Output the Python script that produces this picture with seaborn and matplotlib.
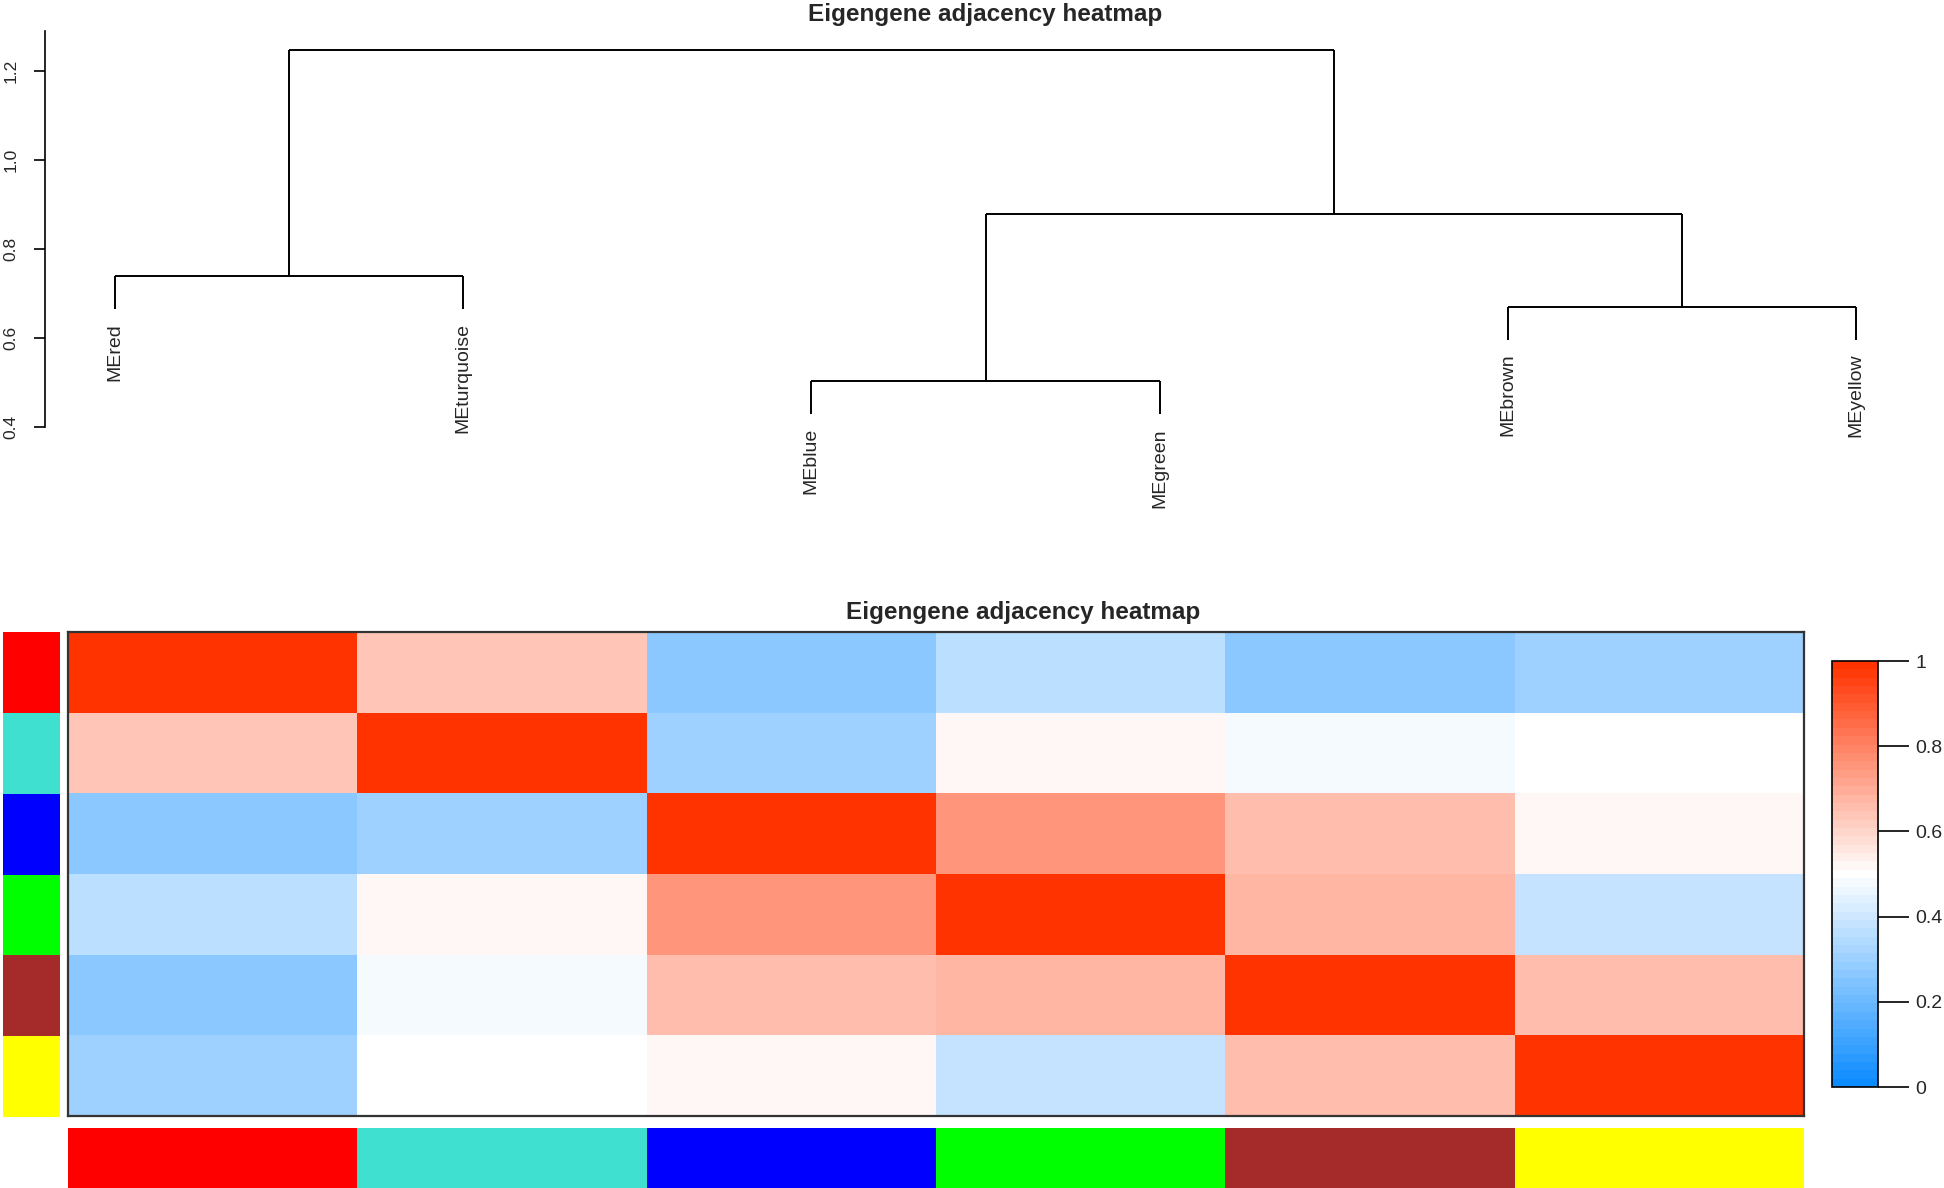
import numpy as np
import pandas as pd
import matplotlib
matplotlib.use("Agg")
import matplotlib.pyplot as plt
from matplotlib.colors import LinearSegmentedColormap, ListedColormap
import seaborn as sns

# module eigengenes, in dendrogram / heatmap order
me_names = ["MEred", "MEturquoise", "MEblue", "MEgreen", "MEbrown", "MEyellow"]
module_colors = ["#FF0000", "#40E0D0", "#0000FF", "#00FF00", "#A52A2A", "#FFFF00"]

# eigengene adjacency
adjacency = [
    [1.00, 0.63, 0.27, 0.355, 0.27, 0.31],
    [0.63, 1.00, 0.31, 0.525, 0.48, 0.50],
    [0.27, 0.31, 1.00, 0.75, 0.66, 0.525],
    [0.355, 0.525, 0.75, 1.00, 0.67, 0.375],
    [0.27, 0.48, 0.66, 0.67, 1.00, 0.665],
    [0.31, 0.50, 0.525, 0.375, 0.665, 1.00],
]

# dendrogram merges: leaves 0-5, merged nodes numbered 6, 7, ...
merge_left = [0, 2, 4, 7, 6]
merge_right = [1, 3, 5, 8, 9]
merge_height = [0.739, 0.503, 0.670, 0.879, 1.247]

y_ticks = [0.4, 0.6, 0.8, 1.0, 1.2]
cbar_ticks = [0, 0.2, 0.4, 0.6, 0.8, 1]
cbar_labels = ["0", "0.2", "0.4", "0.6", "0.8", "1"]
title = "Eigengene adjacency heatmap"

sns.set_style("white")
plt.rcParams["font.family"] = ["Liberation Sans", "DejaVu Sans"]

W, H = 1944, 1188
fig = plt.figure(figsize=(W / 100, H / 100), dpi=100)


def box(x0, y0, x1, y1):
    # pixel box (top-left origin) -> figure fraction rect
    return [x0 / W, 1 - y1 / H, (x1 - x0) / W, (y1 - y0) / H]


# ---------- dendrogram ----------
ax_d = fig.add_axes(box(45, 31, 1926, 520))
n = len(me_names)
pos = {i: i + 1 for i in range(n)}
hgt = {}
hang = 0.1 * (max(merge_height) - min(merge_height))
for k, (a, b, h) in enumerate(zip(merge_left, merge_right, merge_height)):
    for c in (a, b):
        ybot = hgt[c] if c in hgt else h - hang
        ax_d.plot([pos[c], pos[c]], [ybot, h], color="black", lw=1.4,
                  solid_capstyle="butt")
        if c < n:
            ax_d.annotate(me_names[c], (pos[c], ybot), xytext=(0, -10),
                          textcoords="offset points", rotation=90,
                          ha="center", va="top", fontsize=14)
    ax_d.plot([pos[a], pos[b]], [h, h], color="black", lw=1.4,
              solid_capstyle="butt")
    pos[n + k] = (pos[a] + pos[b]) / 2
    hgt[n + k] = h

ax_d.set_xlim(0.8, 6.2)
ax_d.set_ylim(0.191, 1.29)
ax_d.set_xticks([])
ax_d.set_yticks(y_ticks)
ax_d.set_yticklabels([f"{t:.1f}" for t in y_ticks])
ax_d.tick_params(axis="y", length=8, width=1.2, pad=11, labelsize=12.5,
                 labelrotation=90, left=True, color="black")
for lbl in ax_d.get_yticklabels():
    lbl.set_va("center")
for s in ["top", "right", "bottom"]:
    ax_d.spines[s].set_visible(False)
ax_d.spines["left"].set_bounds(0.4, 1.29)
ax_d.spines["left"].set_linewidth(1.2)
ax_d.spines["left"].set_color("black")
fig.text(985 / W, 1 - 3 / H, title, ha="center", va="top",
         fontsize=17.5, fontweight="bold")

# ---------- heatmap ----------
cmap = LinearSegmentedColormap.from_list(
    "bwr_wgcna", [(0.05, 0.55, 1.0), (1, 1, 1), (1.0, 0.2, 0.0)], N=51)
df = pd.DataFrame(adjacency, index=me_names, columns=me_names)

ax_h = fig.add_axes(box(68, 632, 1804, 1116))
ax_cb = fig.add_axes(box(1832, 661, 1878, 1087))
sns.heatmap(df, cmap=cmap, vmin=0, vmax=1, ax=ax_h, cbar_ax=ax_cb,
            xticklabels=False, yticklabels=False)
for s in ax_h.spines.values():
    s.set_visible(True)
    s.set_color("#333333")
    s.set_linewidth(1.6)

cb = ax_h.collections[0].colorbar
cb.outline.set_linewidth(1.2)
cb.outline.set_edgecolor("black")
cb.set_ticks(cbar_ticks)
cb.set_ticklabels(cbar_labels)
ax_cb.tick_params(length=22, width=1.2, pad=5, labelsize=14, color="black")

fig.text(1023 / W, 1 - 612 / H, title, ha="center", va="center",
         fontsize=17.5, fontweight="bold")

# module colour bars
color_cmap = ListedColormap(module_colors)
codes = np.arange(n)
ax_l = fig.add_axes(box(3, 632, 60, 1117))
sns.heatmap(pd.DataFrame(codes.reshape(n, 1)), cmap=color_cmap, vmin=-0.5,
            vmax=n - 0.5, cbar=False, ax=ax_l, xticklabels=False,
            yticklabels=False)
ax_b = fig.add_axes(box(68, 1128, 1804, 1188))
sns.heatmap(pd.DataFrame(codes.reshape(1, n)), cmap=color_cmap, vmin=-0.5,
            vmax=n - 0.5, cbar=False, ax=ax_b, xticklabels=False,
            yticklabels=False)

fig.savefig("out.png", dpi=100, facecolor="white")
